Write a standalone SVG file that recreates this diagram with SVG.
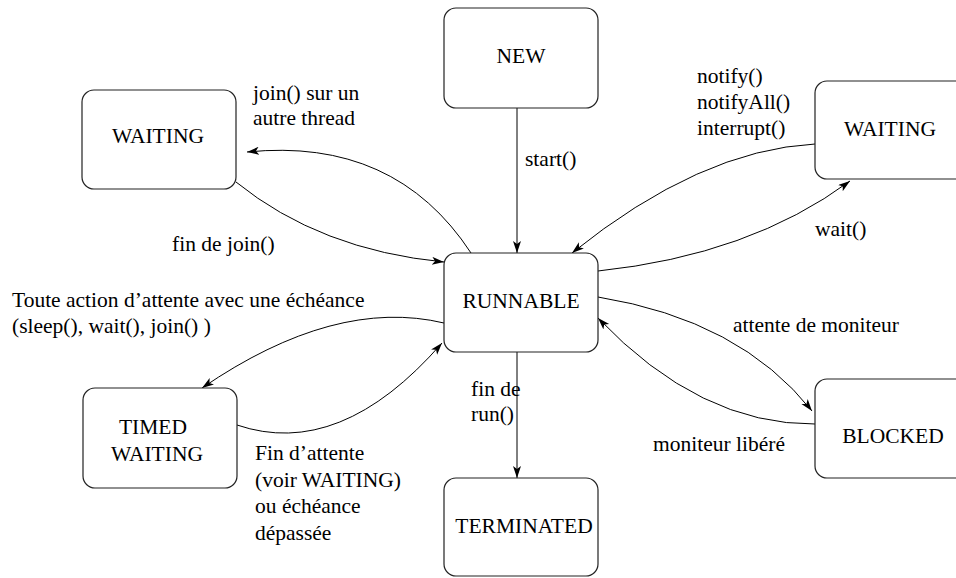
<svg xmlns="http://www.w3.org/2000/svg" width="956" height="578" viewBox="0 0 956 578">
<defs>
<marker id="arr" markerUnits="userSpaceOnUse" markerWidth="14" markerHeight="10" refX="12" refY="4" orient="auto">
<path d="M0,0 L12,4 L0,8 L3,4 z" fill="#000"/>
</marker>
<style>
.box{fill:#fff;stroke:#222;stroke-width:1.2}
.t{font-size:21.5px;fill:#000}
.m{text-anchor:middle}
.c{fill:none;stroke:#000;stroke-width:1;marker-end:url(#arr)}
</style>
</defs>
<rect width="956" height="578" fill="#fff"/>
<g id="connectors">
<path class="c" d="M517,108 L517,253"/>
<path class="c" d="M517,352 L517,478"/>
<path class="c" d="M471,253 Q395,137 247,152"/>
<path class="c" d="M236,182 Q320,250 444,262"/>
<path class="c" d="M598,271 Q750,255 850,181"/>
<path class="c" d="M815,144 Q700,150 572,253"/>
<path class="c" d="M598,297 Q740,320 812,411"/>
<path class="c" d="M815,424 Q700,425 598,318"/>
<path class="c" d="M444,323 Q335,297 202,388"/>
<path class="c" d="M237,425 Q340,460 442,343"/>
</g>
<g font-family="Liberation Serif, Times New Roman, DejaVu Serif, serif">
<g id="labels">
<text class="t" x="253" y="100">join() sur un</text>
<text class="t" x="253" y="125">autre thread</text>
<text class="t" x="525" y="166">start()</text>
<text class="t" x="697" y="83">notify()</text>
<text class="t" x="697" y="109">notifyAll()</text>
<text class="t" x="697" y="135">interrupt()</text>
<text class="t" x="815" y="236">wait()</text>
<text class="t" x="172" y="251">fin de join()</text>
<text class="t" x="12" y="307">Toute action d’attente avec une échéance</text>
<text class="t" x="12" y="333">(sleep(), wait(), join() )</text>
<text class="t" x="733" y="332">attente de moniteur</text>
<text class="t" x="653" y="451">moniteur libéré</text>
<text class="t" x="471" y="396">fin de</text>
<text class="t" x="471" y="421">run()</text>
<text class="t" x="255" y="460">Fin d’attente</text>
<text class="t" x="255" y="487">(voir WAITING)</text>
<text class="t" x="255" y="513">ou échéance</text>
<text class="t" x="255" y="540">dépassée</text>
</g>
<g id="new"><rect class="box" x="444" y="8" width="154" height="100" rx="12"/><text class="t m" x="521" y="63">NEW</text></g>
<g id="waiting-left"><rect class="box" x="82" y="90" width="154" height="99" rx="12"/><text class="t m" x="158" y="143">WAITING</text></g>
<g id="waiting-right"><rect class="box" x="815" y="81" width="154" height="98" rx="12"/><text class="t m" x="890" y="136">WAITING</text></g>
<g id="runnable"><rect class="box" x="444" y="253" width="154" height="99" rx="12"/><text class="t m" x="521" y="308">RUNNABLE</text></g>
<g id="timed-waiting"><rect class="box" x="83" y="388" width="154" height="100" rx="12"/><text class="t m" x="153" y="434">TIMED</text><text class="t m" x="157" y="461">WAITING</text></g>
<g id="terminated"><rect class="box" x="444" y="478" width="154" height="98" rx="12"/><text class="t m" x="524" y="533">TERMINATED</text></g>
<g id="blocked"><rect class="box" x="815" y="379" width="154" height="99" rx="12"/><text class="t m" x="893" y="443">BLOCKED</text></g>
</g>
</svg>
